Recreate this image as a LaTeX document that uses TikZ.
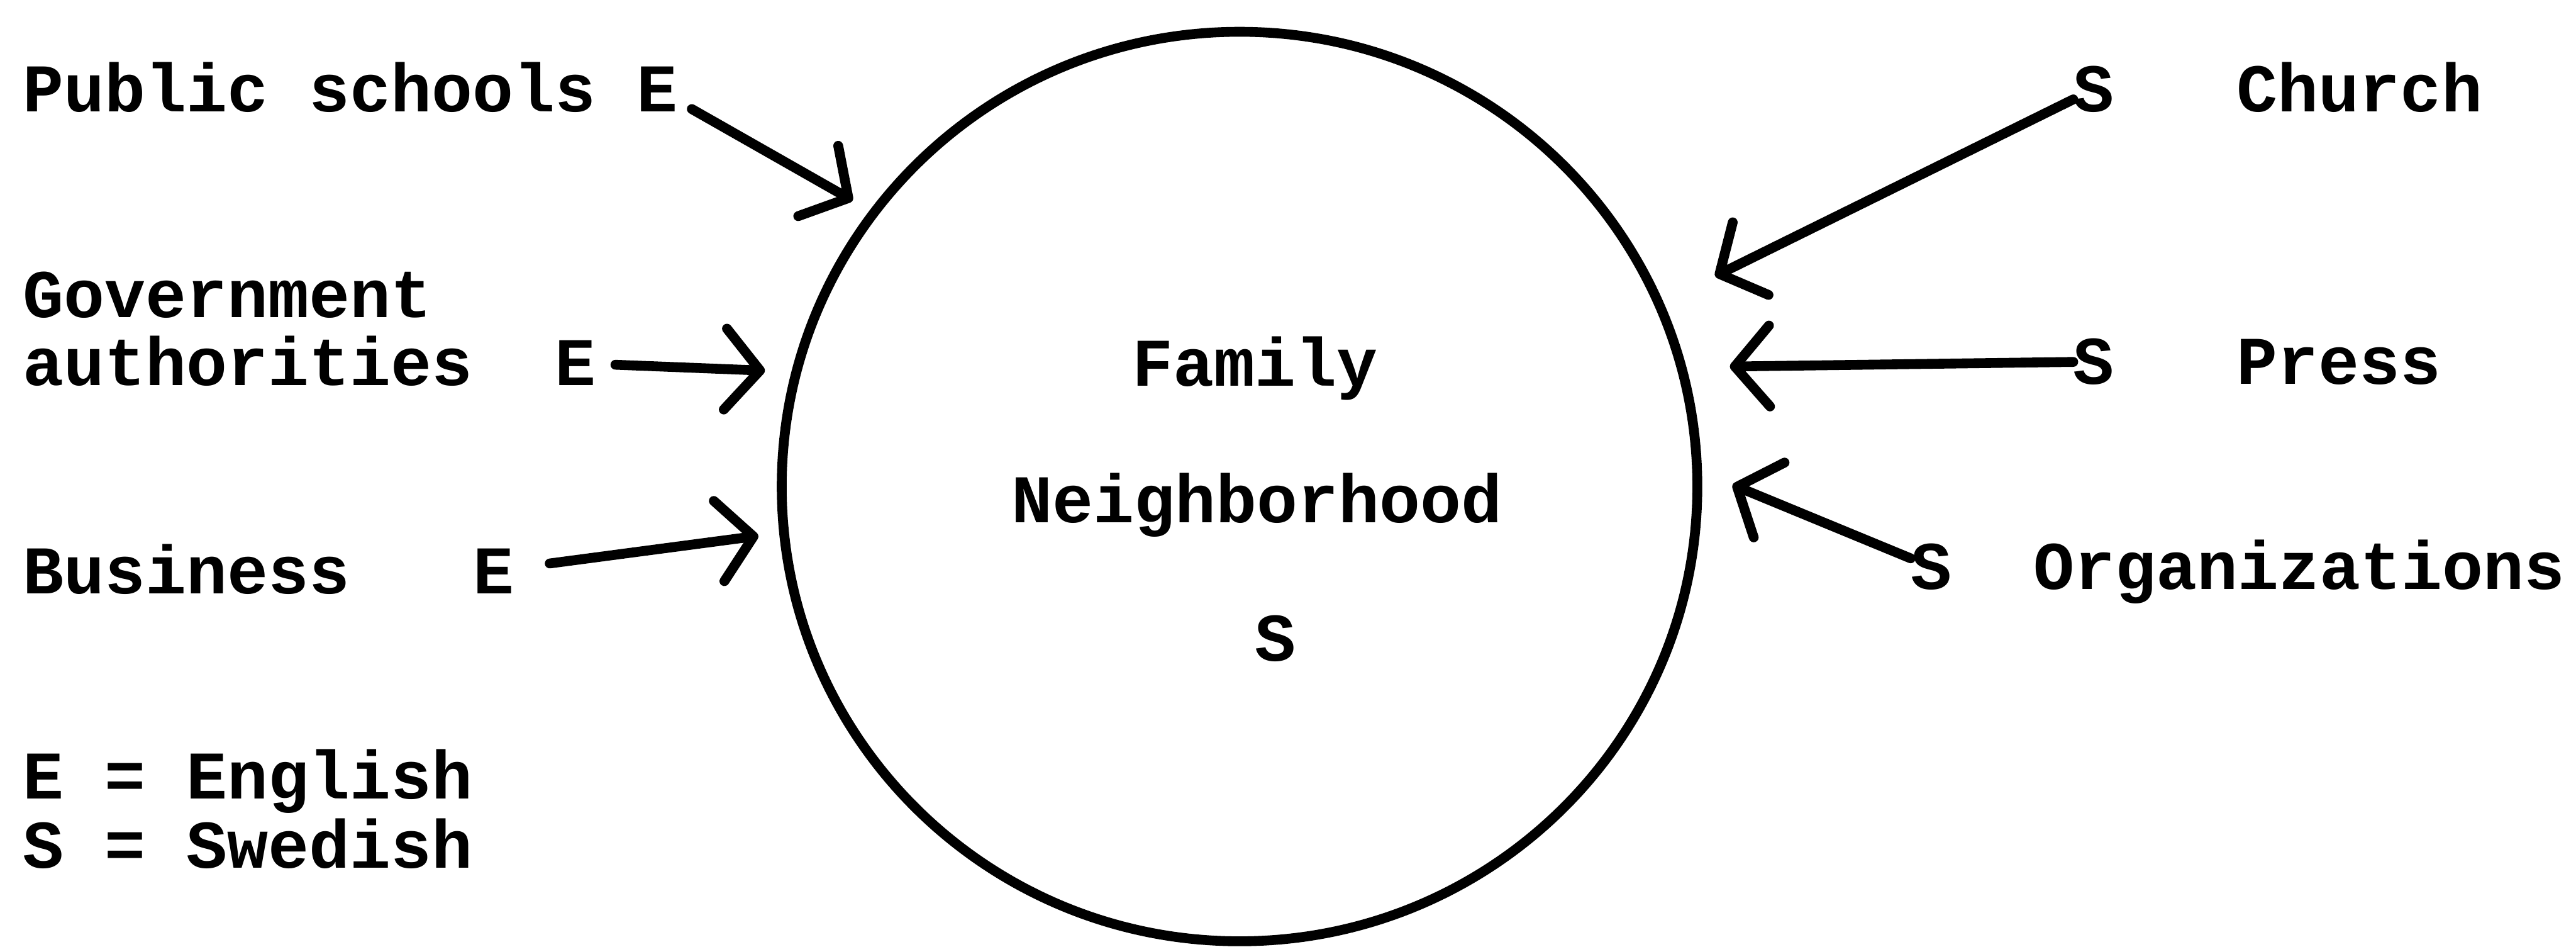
\documentclass[tikz,border=0pt]{standalone}
\usepackage{fontspec}
\newfontfamily\tw{Liberation Mono}
\usetikzlibrary{arrows.meta,shapes.geometric}
\begin{document}
\begin{tikzpicture}[x=0.01cm,y=-0.01cm,
  txt/.style={inner sep=0pt, outer sep=0pt, font={\tw\fontsize{11.8}{12}\selectfont\bfseries}},
  lbl/.style={txt, anchor=base west},
  ctr/.style={txt, anchor=base},
  arr/.style={line width=1.7pt, line cap=round,
    -{Straight Barb[length=6pt,width=14pt,line width=1.7pt,round]}},
  ring/.style={ellipse, draw, line width=1.7pt, inner sep=0pt,
    minimum width=5.57cm, minimum height=5.53cm}]
\useasboundingbox (0,0) rectangle (1568,576);
% left labels
\node[lbl] (ps)   at (14,68) {Public schools};
\node[lbl] (psE)  at (387.5,68) {E};
\node[lbl] (gov)  at (14,193) {Government};
\node[lbl] (aut)  at (14,234.6) {authorities};
\node[lbl] (autE) at (337.7,234.6) {E};
\node[lbl] (bus)  at (14,361) {Business};
\node[lbl] (busE) at (287.9,361) {E};
\node[lbl] (leg1) at (14,486) {E~=~English};
\node[lbl] (leg2) at (14,528) {S~=~Swedish};
% right labels
\node[lbl] (chS) at (1262,68) {S};
\node[lbl] (ch)  at (1361.6,68) {Church};
\node[lbl] (prS) at (1262,233.7) {S};
\node[lbl] (pr)  at (1361.6,233.7) {Press};
\node[lbl] (orS) at (1163,358.5) {S};
\node[lbl] (org) at (1237.7,358.5) {Organizations};
% circle
\node[ring] (fam) at (754.5,296) {};
\node[ctr] (t1) at (764,235) {Family};
\node[ctr] (t2) at (765,318) {Neighborhood};
\node[ctr] (t3) at (776.5,402) {S};
% arrow tips
\coordinate (psT) at (519,122);
\coordinate (gaT) at (465.6,225.5);
\coordinate (buT) at (461.6,326);
\coordinate (chT) at (1044,168);
\coordinate (prT) at (1053,223);
\coordinate (orT) at (1054.6,295);
% arrows
\draw[arr, shorten <=0.1cm] (psE) -- (psT);
\draw[arr, shorten <=0.12cm] (autE) -- (gaT);
\draw[arr, shorten <=0.22cm] (busE) -- (buT);
\draw[arr] (chS) -- (chT);
\draw[arr] (prS) -- (prT);
\draw[arr] (orS) -- (orT);
\end{tikzpicture}
\end{document}
